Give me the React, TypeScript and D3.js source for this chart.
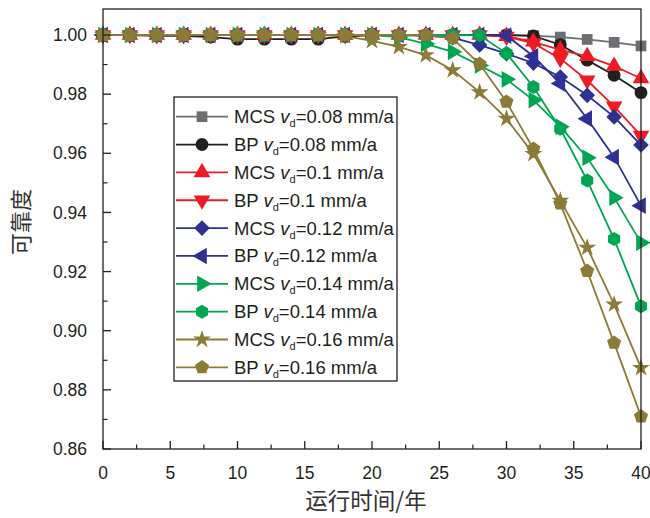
import React from "react";
import * as d3 from "d3";

const years = [0, 2, 4, 6, 8, 10, 12, 14, 16, 18, 20, 22, 24, 26, 28, 30, 32, 34, 36, 38, 40];

const mcs008 = [1, 1, 1, 1, 1, 1, 1, 1, 1, 1, 1, 1, 1, 1, 1, 1, 0.9998, 0.9993, 0.9985, 0.9975, 0.9963];
const bp008 = [1, 1, 0.9997, 0.9997, 0.9993, 0.9986, 0.9986, 0.9986, 0.9986, 0.9995, 1, 1, 1, 1, 1, 1, 0.9997, 0.9967, 0.9915, 0.9864, 0.9805];
const mcs010 = [1, 1, 1, 1, 1, 1, 1, 1, 1, 1, 1, 1, 1, 1, 1, 0.9996, 0.9977, 0.995, 0.9928, 0.9895, 0.9853];
const bp010 = [1, 1, 1, 1, 1, 1, 1, 1, 1, 1, 1, 1, 1, 1, 1, 0.9995, 0.9972, 0.992, 0.9847, 0.9759, 0.966];
const mcs012 = [1, 1, 1, 1, 1, 1, 1, 1, 1, 1, 1, 1, 0.9997, 0.9991, 0.9966, 0.9937, 0.9905, 0.9858, 0.9796, 0.9723, 0.9628];
const bp012 = [1, 1, 1, 1, 1, 1, 1, 1, 1, 1, 1, 1, 1, 1, 1, 0.9998, 0.9928, 0.9836, 0.9717, 0.9587, 0.9423];
const mcs014 = [1, 1, 1, 1, 1, 1, 1, 1, 1, 1, 1, 0.9993, 0.997, 0.9943, 0.9897, 0.985, 0.978, 0.969, 0.9585, 0.945, 0.9298];
const bp014 = [1, 1, 1, 1, 1, 1, 1, 1, 1, 1, 1, 1, 1, 1, 0.9999, 0.9938, 0.9824, 0.9683, 0.9508, 0.931, 0.9083];
const mcs016 = [1, 1, 1, 1, 1, 1, 1, 1, 1, 0.9996, 0.998, 0.996, 0.9932, 0.9881, 0.9807, 0.9717, 0.9598, 0.944, 0.9281, 0.9089, 0.8874];
const bp016 = [1, 1, 1, 1, 1, 1, 1, 1, 1, 1, 1, 1, 1, 0.9989, 0.9902, 0.9774, 0.9615, 0.943, 0.9202, 0.8959, 0.871];

const methods = ["MCS", "BP", "MCS", "BP", "MCS", "BP", "MCS", "BP", "MCS", "BP"];
const speeds = ["0.08", "0.08", "0.1", "0.1", "0.12", "0.12", "0.14", "0.14", "0.16", "0.16"];
const colors = ["#6d6e71", "#231f20", "#ed1c24", "#ed1c24", "#2e3192", "#2e3192", "#00a651", "#00a651", "#8c7a37", "#8c7a37"];
const markers = ["square", "circle", "up", "down", "diamond", "left", "right", "hexagon", "star", "pentagon"];
const seriesValues = [mcs008, bp008, mcs010, bp010, mcs012, bp012, mcs014, bp014, mcs016, bp016];

const yTicks = [0.86, 0.88, 0.9, 0.92, 0.94, 0.96, 0.98, 1.0];
const xTicks = [0, 5, 10, 15, 20, 25, 30, 35, 40];

const xTitle = "运行时间/年";
const yTitle = "可靠度";

const W = 650;
const H = 518;
const left = 103;
const right = 641;
const frameTop = 9;
const bottom = 449;

const x = d3.scaleLinear().domain([0, 40]).range([left, right]);
const y = d3.scaleLinear().domain([0.86, 1.0]).range([bottom, 35]);

function polygon(n: number, r: number, rot: number): string {
  const pts: string[] = [];
  for (let i = 0; i < n; i++) {
    const a = rot + (i * 2 * Math.PI) / n;
    pts.push(`${(r * Math.cos(a)).toFixed(2)},${(r * Math.sin(a)).toFixed(2)}`);
  }
  return "M" + pts.join("L") + "Z";
}

function markerPath(kind: string): { d: string; rotate: number } {
  switch (kind) {
    case "square":
      return { d: d3.symbol().type(d3.symbolSquare).size(115)()!, rotate: 0 };
    case "circle":
      return { d: d3.symbol().type(d3.symbolCircle).size(130)()!, rotate: 0 };
    case "up":
      return { d: d3.symbol().type(d3.symbolTriangle).size(120)()!, rotate: 0 };
    case "down":
      return { d: d3.symbol().type(d3.symbolTriangle).size(120)()!, rotate: 180 };
    case "left":
      return { d: d3.symbol().type(d3.symbolTriangle).size(120)()!, rotate: -90 };
    case "right":
      return { d: d3.symbol().type(d3.symbolTriangle).size(120)()!, rotate: 90 };
    case "diamond":
      return { d: polygon(4, 7.8, -Math.PI / 2), rotate: 0 };
    case "hexagon":
      return { d: polygon(6, 7, -Math.PI / 2), rotate: 0 };
    case "star":
      return { d: d3.symbol().type(d3.symbolStar).size(100)()!, rotate: 0 };
    case "pentagon":
      return { d: polygon(5, 7.4, -Math.PI / 2), rotate: 0 };
  }
  return { d: "", rotate: 0 };
}

const Marker = ({ kind, cx, cy, color }: { kind: string; cx: number; cy: number; color: string }) => {
  const m = markerPath(kind);
  return <path d={m.d} transform={`translate(${cx},${cy}) rotate(${m.rotate})`} fill={color} stroke="none" />;
};

export default function App() {
  const line = d3
    .line<number>()
    .x((_, i) => x(years[i]))
    .y((v) => y(v));

  const yMinor = d3.range(0.87, 1.0, 0.02);
  const xMinor = d3.range(2.5, 40, 5);
  const font = "'Liberation Sans', Arial, sans-serif";
  const cjk = "'Noto Sans CJK SC', sans-serif";
  const textColor = "#231f20";

  const legX = 174;
  const legY = 97;
  const legW = 223;
  const legH = 284;
  const rowY0 = 116.7;
  const rowStep = 27.85;

  return (
    <svg width={W} height={H} style={{ position: "absolute", left: 0, top: 0, background: "#fff" }}>
      <rect x={0} y={0} width={W} height={H} fill="#fff" />
      {seriesValues.map((vals, si) => (
        <g key={si}>
          <path d={line(vals)!} fill="none" stroke={colors[si]} strokeWidth={1.8} />
          {vals.map((v, i) => (
            <Marker key={i} kind={markers[si]} cx={x(years[i])} cy={y(v)} color={colors[si]} />
          ))}
        </g>
      ))}
      <rect x={left} y={frameTop} width={right - left} height={bottom - frameTop} fill="none" stroke="#231f20" strokeWidth={1.3} />
      {yTicks.map((t) => (
        <g key={"y" + t}>
          <line x1={left} x2={left + 8} y1={y(t)} y2={y(t)} stroke="#231f20" strokeWidth={1.3} />
          <text x={87} y={y(t)} dy="0.35em" textAnchor="end" fontFamily={font} fontSize={17.5} fill={textColor}>
            {t.toFixed(2)}
          </text>
        </g>
      ))}
      {yMinor.map((t) => (
        <line key={"ym" + t} x1={left} x2={left + 4.5} y1={y(t)} y2={y(t)} stroke="#231f20" strokeWidth={1.2} />
      ))}
      {xTicks.map((t) => (
        <g key={"x" + t}>
          <line x1={x(t)} x2={x(t)} y1={bottom} y2={bottom - 8} stroke="#231f20" strokeWidth={1.3} />
          <text x={x(t)} y={473} dy="0.35em" textAnchor="middle" fontFamily={font} fontSize={17.5} fill={textColor}>
            {t}
          </text>
        </g>
      ))}
      {xMinor.map((t) => (
        <line key={"xm" + t} x1={x(t)} x2={x(t)} y1={bottom} y2={bottom - 4.5} stroke="#231f20" strokeWidth={1.2} />
      ))}
      <text x={366} y={501} dy="0.35em" textAnchor="middle" fontFamily={cjk} fontSize={22.5} fill="#333">
        {xTitle}
      </text>
      <text
        transform={`translate(21,222) rotate(-90)`}
        dy="0.35em"
        textAnchor="middle"
        fontFamily={cjk}
        fontSize={22}
        fill="#333"
      >
        {yTitle}
      </text>
      <rect x={legX} y={legY} width={legW} height={legH} fill="#fff" stroke="#231f20" strokeWidth={1.3} />
      {methods.map((m, i) => {
        const ry = rowY0 + i * rowStep;
        return (
          <g key={"leg" + i}>
            <line x1={176} x2={228} y1={ry} y2={ry} stroke={colors[i]} strokeWidth={1.8} />
            <Marker kind={markers[i]} cx={202} cy={ry} color={colors[i]} />
            <text x={234} y={ry} dy="0.35em" fontFamily={font} fontSize={18.5} fill={textColor}>
              {m + " "}
              <tspan fontStyle="italic">v</tspan>
              <tspan fontSize={11} dy="4">d</tspan>
              <tspan dy="-4">{"=" + speeds[i] + " mm/a"}</tspan>
            </text>
          </g>
        );
      })}
    </svg>
  );
}
